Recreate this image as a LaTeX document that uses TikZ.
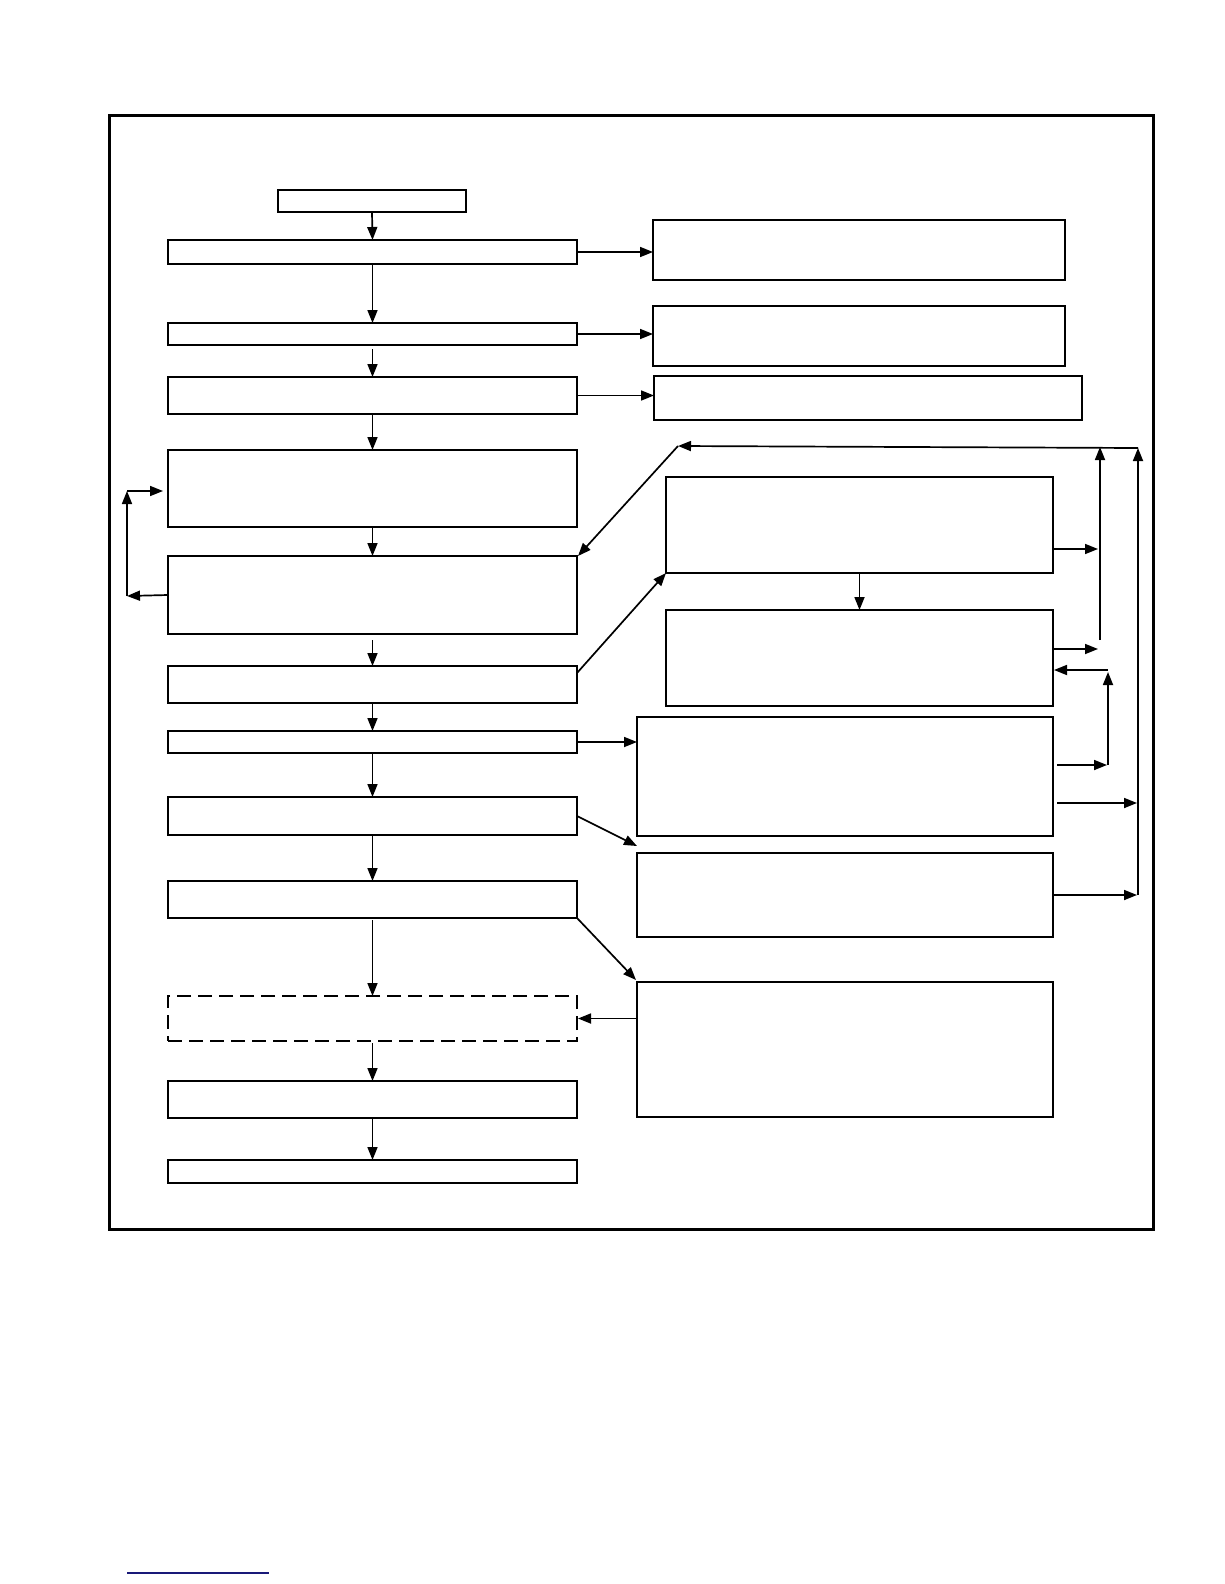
\documentclass[tikz,border=0pt]{standalone}
\usetikzlibrary{arrows.meta,calc}
\tikzset{
  box/.style={draw, line width=1.9pt, inner sep=0pt, outer sep=0pt, fill=white},
  dbox/.style={box, dash pattern=on 14pt off 7pt},
  arr/.style={line width=1.7pt, -{Triangle[length=13pt,width=10pt]}},
  ln/.style={line width=1.7pt},
}
\newcommand\bx[6][]{%
  \pgfmathsetmacro\bxw{#5-#3}\pgfmathsetmacro\bxh{#6-#4}%
  \pgfmathsetmacro\bxcx{(#3+#5)/2}\pgfmathsetmacro\bxcy{(#4+#6)/2}%
  \node[box,#1,minimum width=\bxw pt,minimum height=\bxh pt] (#2) at (\bxcx,\bxcy) {};}
\begin{document}
\begin{tikzpicture}[x=1pt,y=-1pt]
\useasboundingbox (0,0) rectangle (1224,1584);
% frame
\draw[line width=3pt] (109,116) rectangle (1153,1229);
% left column
\bx{top}{278}{190}{466}{212}
\bx{B1}{168}{240}{577}{264}
\bx{B2}{168}{323}{577}{345}
\bx{B3}{168}{377}{577}{414}
\bx{B4}{168}{450}{577}{527}
\bx{B5}{168}{556}{577}{634}
\bx{B6}{168}{666}{577}{703}
\bx{B7}{168}{731}{577}{753}
\bx{B8}{168}{797}{577}{835}
\bx{B9}{168}{881}{577}{918}
\bx[dbox]{B10}{168}{996}{577}{1041}
\bx{B11}{168}{1081}{577}{1118}
\bx{B12}{168}{1160}{577}{1183}
% right column
\bx{R1}{653}{220}{1065}{280}
\bx{R2}{653}{306}{1065}{366}
\bx{R3}{654}{376}{1082}{420}
\bx{R4}{666}{477}{1053}{573}
\bx{R5}{666}{610}{1053}{706}
\bx{R6}{637}{717}{1053}{836}
\bx{R7}{637}{853}{1053}{937}
\bx{R8}{637}{982}{1053}{1117}
% helper coordinates
\coordinate (v1top) at (1100,447);
\coordinate (v1bot) at (1100,640);
\coordinate (v2top) at (1138,448);
\coordinate (v2bot) at (1138,895);
\coordinate (v3top) at (1108,670);
\coordinate (v3bot) at (1108,765);
\coordinate (ltop) at (678,446);
\coordinate (lb) at (127,596);
\coordinate (lt) at (127,491);
% main vertical flow
\draw[arr] (top.south) -- (B1.north);
\draw[arr] (B1.south) -- (B2.north);
\draw[arr] ([yshift=-4pt]B2.south) -- (B3.north);
\draw[arr] (B3.south) -- (B4.north);
\draw[arr] (B4.south) -- (B5.north);
\draw[arr] ([yshift=-6pt]B5.south) -- (B6.north);
\draw[arr] (B6.south) -- (B7.north);
\draw[arr] (B7.south) -- (B8.north);
\draw[arr] (B8.south) -- (B9.north);
\draw[arr] ([yshift=-2pt]B9.south) -- (B10.north);
\draw[arr] ([yshift=-2pt]B10.south) -- (B11.north);
\draw[arr] (B11.south) -- (B12.north);
% to right boxes
\draw[arr] (B1.east) -- (R1.west |- B1.east);
\draw[arr] (B2.east) -- (R2.west |- B2.east);
\draw[arr] ([xshift=1pt]B3.east) -- (R3.west |- B3.east);
\draw[arr] ([yshift=11.5pt]B6.east) -- (R4.south west);
\draw[arr] (B7.east) -- (R6.west |- B7.east);
\draw[arr] (B8.east) -- ([yshift=7pt]R7.north west);
\draw[arr] (B9.south east) -- ([xshift=-1pt,yshift=2pt]R8.north west);
\draw[arr] (R8.west |- B10.east) -- ([xshift=1pt]B10.east);
\draw[arr] (R4.south) -- (R5.north);
% left loop
\draw[arr] (B5.west) -- (lb);
\draw[arr] (lb) -- (lt);
\draw[arr] (lt) -- ([xshift=-5pt]B4.west |- lt);
% right side feedback
\draw[arr] ([yshift=-24pt]R4.east) -- ([xshift=-2pt,yshift=-24pt]R4.east -| v1top);
\draw[arr] ([yshift=9pt]R5.east) -- ([xshift=-2pt,yshift=9pt]R5.east -| v1top);
\draw[arr] ([xshift=4pt,yshift=11.5pt]R6.east) -- ([xshift=-1pt,yshift=11.5pt]R6.east -| v3top);
\draw[arr] ([xshift=4pt,yshift=-26.5pt]R6.east) -- ([xshift=-1pt,yshift=-26.5pt]R6.east -| v2top);
\draw[arr] (R7.east) -- ([xshift=-1pt]R7.east -| v2top);
\draw[arr] (v3bot) -- ([yshift=-2pt]v3top);
\draw[arr] (v3top) -- ([xshift=1pt,yshift=-12pt]R5.east);
\draw[arr] (v1bot) -- (v1top);
\draw[arr] (v2bot) -- (v2top);
\draw[arr] (v2top) -- (ltop);
\draw[arr] (ltop) -- ([xshift=1pt]B5.north east);
% bottom rule
\draw[line width=1.5pt, color={rgb,255:red,25;green,25;blue,120}] (127,1573) -- (269,1573);
\end{tikzpicture}
\end{document}
